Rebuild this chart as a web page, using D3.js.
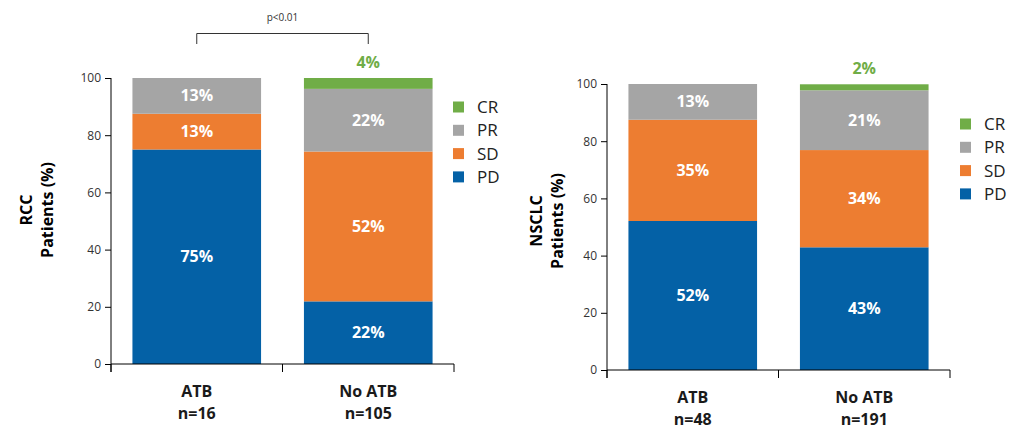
<!DOCTYPE html>
<html>
<head>
<meta charset="utf-8">
<script src="https://cdn.jsdelivr.net/npm/d3@7"></script>
<style>
  html, body { margin: 0; padding: 0; background: #fff; }
  svg { display: block; font-family: "Open Sans", "DejaVu Sans", sans-serif; }
</style>
</head>
<body>
<svg id="chart" width="1024" height="440"></svg>
<script>
// ---------- data ----------
const categories = ["ATB", "No ATB"];
const statuses = ["PD", "SD", "PR", "CR"];
const legendOrder = ["CR", "PR", "SD", "PD"];
const yTicks = [0, 20, 40, 60, 80, 100];

// RCC
const rccN = ["n=16", "n=105"];
const rccPD = [75.0, 21.9];
const rccSD = [12.5, 52.4];
const rccPR = [12.5, 21.9];
const rccCR = [0.0, 3.8];
const rccPValue = "p<0.01";

// NSCLC
const nsclcN = ["n=48", "n=191"];
const nsclcPD = [52.1, 42.9];
const nsclcSD = [35.4, 34.0];
const nsclcPR = [12.5, 20.9];
const nsclcCR = [0.0, 2.1];

// ---------- styles ----------
const colors = { PD: "#0461A6", SD: "#ED7D31", PR: "#A5A5A5", CR: "#70AD47" };
const svg = d3.select("#chart");

function buildRows(n, pd, sd, pr, cr) {
  return categories.map((c, i) => ({ cat: c, n: n[i], PD: pd[i], SD: sd[i], PR: pr[i], CR: cr[i] }));
}

function drawChart(cfg) {
  const g = svg.append("g");
  const x = d3.scaleBand().domain(categories).range([cfg.x0, cfg.x1])
    .paddingInner(0.25).paddingOuter(0.125);
  const y = d3.scaleLinear().domain([0, 100]).range([cfg.yBottom, cfg.yTop]);

  const stack = d3.stack().keys(statuses)(cfg.rows);

  // bars
  stack.forEach(layer => {
    g.selectAll(null).data(layer.filter(d => d[1] - d[0] > 0)).enter().append("rect")
      .attr("x", d => x(d.data.cat))
      .attr("width", x.bandwidth())
      .attr("y", d => y(d[1]))
      .attr("height", d => y(d[0]) - y(d[1]))
      .attr("fill", colors[layer.key]);
  });

  // bar labels
  stack.forEach(layer => {
    const isCR = layer.key === "CR";
    g.selectAll(null).data(layer.filter(d => d[1] - d[0] > 0)).enter().append("text")
      .attr("x", d => x(d.data.cat) + x.bandwidth() / 2)
      .attr("y", d => isCR ? y(d[1]) - 16 : (y(d[0]) + y(d[1])) / 2)
      .attr("dy", "0.35em")
      .attr("text-anchor", "middle")
      .attr("font-size", 16)
      .attr("font-weight", "bold")
      .attr("fill", isCR ? colors.CR : "#fff")
      .text(d => Math.round(d[1] - d[0]) + "%");
  });

  // y axis
  const yAxis = d3.axisLeft(y).tickValues(yTicks).tickSize(6).tickPadding(4);
  const ya = g.append("g").attr("transform", `translate(${cfg.x0},0)`).call(yAxis);
  ya.select(".domain").attr("d", `M0,${y(100)}V${y(0) + 8}`).attr("stroke", "#000");
  ya.selectAll(".tick line").attr("stroke", "#000");
  ya.selectAll(".tick text").attr("font-size", 12).attr("fill", "#333")
    .attr("font-family", "'Open Sans', sans-serif");

  // x axis: line with ticks at band boundaries
  const bounds = [cfg.x0, cfg.x0 + (cfg.x1 - cfg.x0) / 2, cfg.x1];
  g.append("line").attr("x1", cfg.x0).attr("x2", cfg.x1)
    .attr("y1", y(0)).attr("y2", y(0)).attr("stroke", "#000");
  g.selectAll(null).data(bounds).enter().append("line")
    .attr("x1", d => d).attr("x2", d => d)
    .attr("y1", y(0)).attr("y2", y(0) + 8).attr("stroke", "#000");

  // x labels
  cfg.rows.forEach(r => {
    const cx = x(r.cat) + x.bandwidth() / 2;
    g.append("text").attr("x", cx).attr("y", y(0) + 33)
      .attr("text-anchor", "middle").attr("font-size", 16).attr("font-weight", "bold")
      .attr("fill", "#1a1a1a").text(r.cat);
    g.append("text").attr("x", cx).attr("y", y(0) + 55)
      .attr("text-anchor", "middle").attr("font-size", 16).attr("font-weight", "bold")
      .attr("fill", "#1a1a1a").text(r.n);
  });

  // y title (two lines)
  const tg = g.append("g").attr("transform", `translate(${cfg.titleX},${cfg.titleY}) rotate(-90)`);
  tg.append("text").attr("x", 0).attr("y", 0).attr("text-anchor", "middle")
    .attr("font-size", 16).attr("font-weight", "bold").attr("fill", "#000").text(cfg.title);
  tg.append("text").attr("x", 0).attr("y", 21).attr("text-anchor", "middle")
    .attr("font-size", 16).attr("font-weight", "bold").attr("fill", "#000").text("Patients (%)");

  // legend
  legendOrder.forEach((k, i) => {
    const ly = cfg.legY + i * 23.3;
    g.append("rect").attr("x", cfg.legX).attr("y", ly - 5.5).attr("width", 11).attr("height", 11)
      .attr("fill", colors[k]);
    g.append("text").attr("x", cfg.legX + 24).attr("y", ly).attr("dy", "0.35em")
      .attr("font-size", 17).attr("fill", "#222").text(k);
  });

  // significance bracket
  if (cfg.pValue) {
    const bx0 = x(categories[0]) + x.bandwidth() / 2;
    const bx1 = x(categories[1]) + x.bandwidth() / 2;
    g.append("path")
      .attr("d", `M${bx0},44V33.5H${bx1}V44`)
      .attr("fill", "none").attr("stroke", "#333").attr("stroke-width", 1);
    g.append("text").attr("x", (bx0 + bx1) / 2).attr("y", 21)
      .attr("text-anchor", "middle").attr("font-size", 10).attr("fill", "#333").text(cfg.pValue);
  }
}

drawChart({
  rows: buildRows(rccN, rccPD, rccSD, rccPR, rccCR),
  title: "RCC", pValue: rccPValue,
  x0: 111, x1: 454, yTop: 78, yBottom: 364,
  titleX: 32, titleY: 210,
  legX: 453, legY: 107
});

drawChart({
  rows: buildRows(nsclcN, nsclcPD, nsclcSD, nsclcPR, nsclcCR),
  title: "NSCLC", pValue: null,
  x0: 607, x1: 950, yTop: 84, yBottom: 370,
  titleX: 542, titleY: 221,
  legX: 960, legY: 124
});
</script>
</body>
</html>
